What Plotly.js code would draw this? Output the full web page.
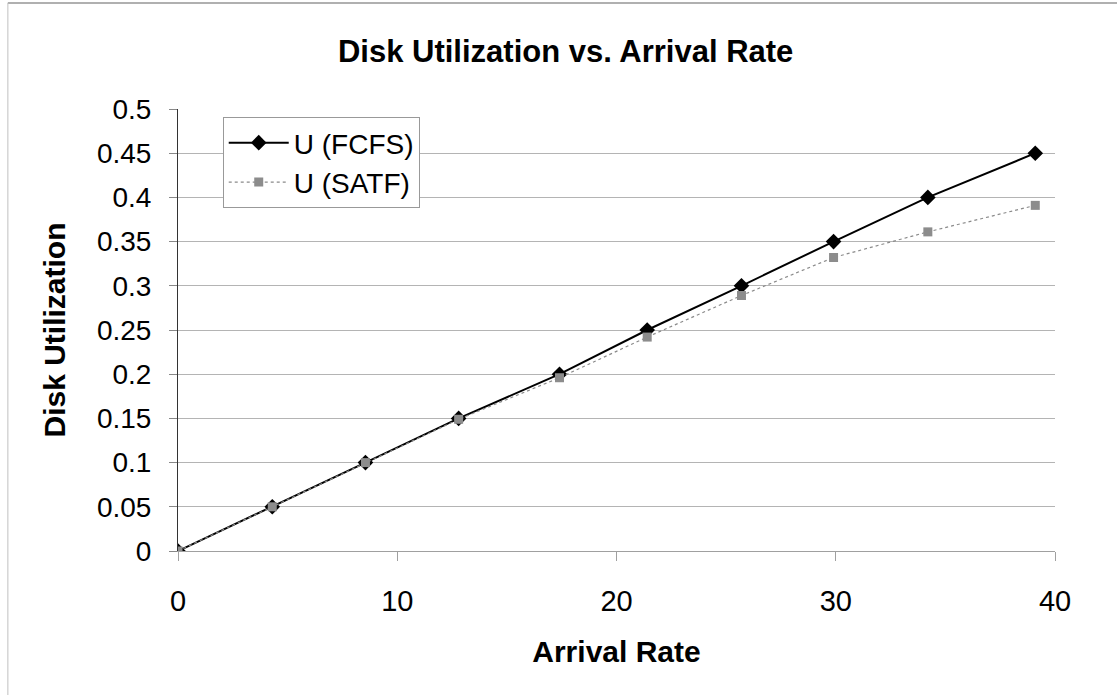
<!DOCTYPE html>
<html>
<head>
<meta charset="utf-8">
<script src="https://cdn.plot.ly/plotly-3.0.1.min.js"></script>
<style>
html,body{margin:0;padding:0;background:#fff;}
#chart{width:1117px;height:695px;}
</style>
</head>
<body>
<div id="chart"></div>
<script>
const arrivalRate = [0, 4.3, 8.55, 12.8, 17.4, 21.4, 25.7, 29.9, 34.2, 39.1];
const uFCFS = [0, 0.05, 0.1, 0.15, 0.2, 0.25, 0.3, 0.35, 0.4, 0.45];
const uSATF = [0, 0.05, 0.1, 0.149, 0.196, 0.242, 0.289, 0.332, 0.361, 0.391];
const xTicks = [0, 10, 20, 30, 40];
const yTicks = [0, 0.05, 0.1, 0.15, 0.2, 0.25, 0.3, 0.35, 0.4, 0.45, 0.5];
const yTickText = ['0', '0.05', '0.1', '0.15', '0.2', '0.25', '0.3', '0.35', '0.4', '0.45', '0.5'];

const font = 'Liberation Sans, Arial, sans-serif';

const traces = [
  {
    x: arrivalRate, y: uFCFS, name: 'U (FCFS)', type: 'scatter', mode: 'lines+markers',
    line: {color: '#000000', width: 2},
    marker: {symbol: 'diamond', size: 12, color: '#000000'}
  },
  {
    x: arrivalRate, y: uSATF, name: 'U (SATF)', type: 'scatter', mode: 'lines+markers',
    line: {color: '#8a8a8a', width: 1.2, dash: 'dot'},
    marker: {symbol: 'square', size: 9, color: '#8c8c8c'}
  }
];

const layout = {
  width: 1117, height: 695,
  margin: {l: 178, r: 62, t: 109, b: 144},
  paper_bgcolor: '#ffffff', plot_bgcolor: '#ffffff',
  font: {family: font, color: '#000000'},
  title: {text: '<b>Disk Utilization vs. Arrival Rate</b>', font: {family: font, size: 31, color: '#000'}, x: 0.442, xref: 'paper', xanchor: 'center', y: 0.927, yref: 'container', yanchor: 'middle'},
  showlegend: true,
  legend: {x: 0.051, y: 0.982, xanchor: 'left', yanchor: 'top', bgcolor: '#ffffff', bordercolor: '#999999', borderwidth: 1, font: {family: font, size: 28, color: '#000'}, tracegroupgap: 0, itemwidth: 60},
  shapes: [
    {type: 'line', xref: 'paper', yref: 'paper', x0: -0.194, x1: 1.08, y0: 1.24, y1: 1.24, line: {color: '#b0b0b0', width: 2}},
    {type: 'line', xref: 'paper', yref: 'paper', x0: -0.194, x1: -0.194, y0: 1.24, y1: -0.33, line: {color: '#c0c0c0', width: 1}}
  ],
  xaxis: {
    range: [0, 40], tickvals: xTicks, ticktext: xTicks.map(String),
    showgrid: false, zeroline: false,
    showline: true, linecolor: '#a0a0a0', linewidth: 1,
    ticks: 'outside', ticklen: 9, tickcolor: '#a0a0a0',
    ticklabelstandoff: 15,
    tickfont: {family: font, size: 29, color: '#000'},
    title: {text: '<b>Arrival Rate</b>', font: {family: font, size: 30, color: '#000'}, standoff: 25}
  },
  yaxis: {
    range: [0, 0.5], tickvals: yTicks, ticktext: yTickText,
    showgrid: true, gridcolor: '#b4b4b4', gridwidth: 1, zeroline: false,
    showline: true, linecolor: '#333333', linewidth: 1,
    ticks: 'outside', ticklen: 8, tickcolor: '#888888',
    ticklabelstandoff: 12,
    tickfont: {family: font, size: 28, color: '#000'},
    title: {text: '<b>Disk Utilization</b>', font: {family: font, size: 30, color: '#000'}, standoff: 22}
  }
};

Plotly.newPlot('chart', traces, layout, {displayModeBar: false, staticPlot: true});
</script>
</body>
</html>
